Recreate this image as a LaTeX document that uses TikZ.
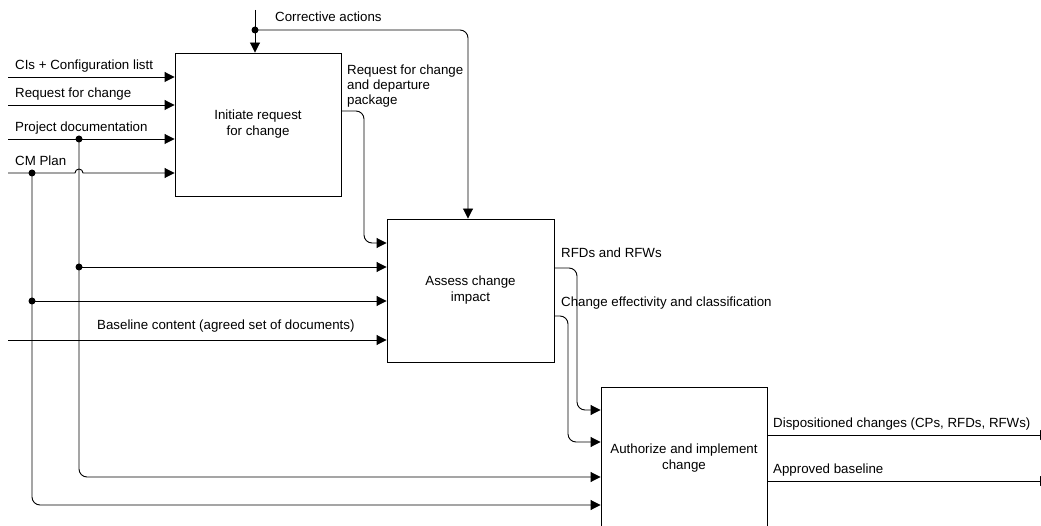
\documentclass[tikz,border=0pt]{standalone}
\usepackage{fontspec}
\setmainfont{Liberation Sans}
\usetikzlibrary{arrows.meta}
\begin{document}
\begin{tikzpicture}[x=1pt,y=-1pt,
  box/.style={draw, line width=0.9pt, align=center, inner sep=0pt, font=\fontsize{13.3}{16}\selectfont},
  lbl/.style={anchor=base west, inner sep=0pt, font=\fontsize{13.3}{15.5}\selectfont},
  arr/.style={line width=0.9pt, -{Triangle[length=10pt,width=10pt]}},
  ln/.style={line width=0.9pt},
  dot/.style={circle, fill, inner sep=0pt, minimum size=7pt},
  rc/.style={rounded corners=8pt}]
\useasboundingbox (0,0) rectangle (1041,526);
\clip (0,0) rectangle (1041,526);

% boxes
\node[box, minimum width=166pt, minimum height=143pt] (b1) at (258,124.5) {Initiate request\\for change};
\node[box, minimum width=167pt, minimum height=143pt] (b2) at (470.5,290.5) {Assess change\\impact};
\node[box, minimum width=166pt, minimum height=142pt] (b3) at (684,458) {Authorize and implement\\change};

% free ends
\coordinate (s1) at (8,77);
\coordinate (s2) at (8,105);
\coordinate (s3) at (8,139);
\coordinate (s4) at (8,173);
\coordinate (s5) at (8,340);
\coordinate (c0) at (255,10);
\coordinate (ca) at (468,30);
\coordinate (e1) at (1050,435);
\coordinate (e2) at (1050,481);

% dots
\node[dot] (d1) at (79,139) {};
\node[dot] (d2) at (32,173) {};
\node[dot] (d3) at (79,267) {};
\node[dot] (d4) at (32,301) {};
\node[dot] (d5) at (255,30) {};

% inputs to box 1
\draw[arr] (s1) -- (s1 -| b1.west);
\draw[arr] (s2) -- (s2 -| b1.west);
\draw[arr] (s3) -- (s3 -| b1.west);
\draw[arr] (s4) -- (75,173) arc (180:0:4pt) -- (s4 -| b1.west);

% corrective actions
\draw[arr] (c0) -- (c0 |- b1.north);
\draw[arr, rc] (d5.center) -- (ca) -- (ca |- b2.north);

% box1 -> box2
\draw[arr, rc] (b1.east |- 0,111) -- (364,111) -- (364,243) -- (b2.west |- 0,243);

% branches
\draw[arr] (d3.center) -- (d3 -| b2.west);
\draw[arr] (d4.center) -- (d4 -| b2.west);
\draw[arr] (s5) -- (s5 -| b2.west);
\draw[arr, rc] (d1.center) -- (79,477) -- (b3.west |- 0,477);
\draw[arr, rc] (d2.center) -- (32,505) -- (b3.west |- 0,505);

% box2 -> box3
\draw[arr, rc] (b2.east |- 0,268) -- (577,268) -- (577,410) -- (b3.west |- 0,410);
\draw[arr, rc] (b2.east |- 0,316) -- (568,316) -- (568,442) -- (b3.west |- 0,442);

% outputs of box3 (arrowheads run off the page edge)
\draw[arr] (b3.east |- e1) -- (e1);
\draw[arr] (b3.east |- e2) -- (e2);

% labels
\node[lbl] (l1) at (15,70) {CIs + Configuration listt};
\node[lbl] (l2) at (15,98) {Request for change};
\node[lbl] (l3) at (15,132) {Project documentation};
\node[lbl] (l4) at (15,166) {CM Plan};
\node[lbl] (l5) at (275,22) {Corrective actions};
\node[lbl] (l6) at (347,75) {Request for change};
\node[lbl] (l6b) at (347,90) {and departure};
\node[lbl] (l6c) at (347,105) {package};
\node[lbl] (l7) at (97,330) {Baseline content (agreed set of documents)};
\node[lbl] (l8) at (561,258) {RFDs and RFWs};
\node[lbl] (l9) at (561,307) {Change effectivity and classification};
\node[lbl] (l10) at (773,427) {Dispositioned changes (CPs, RFDs, RFWs)};
\node[lbl] (l11) at (773,473) {Approved baseline};
\end{tikzpicture}
\end{document}
